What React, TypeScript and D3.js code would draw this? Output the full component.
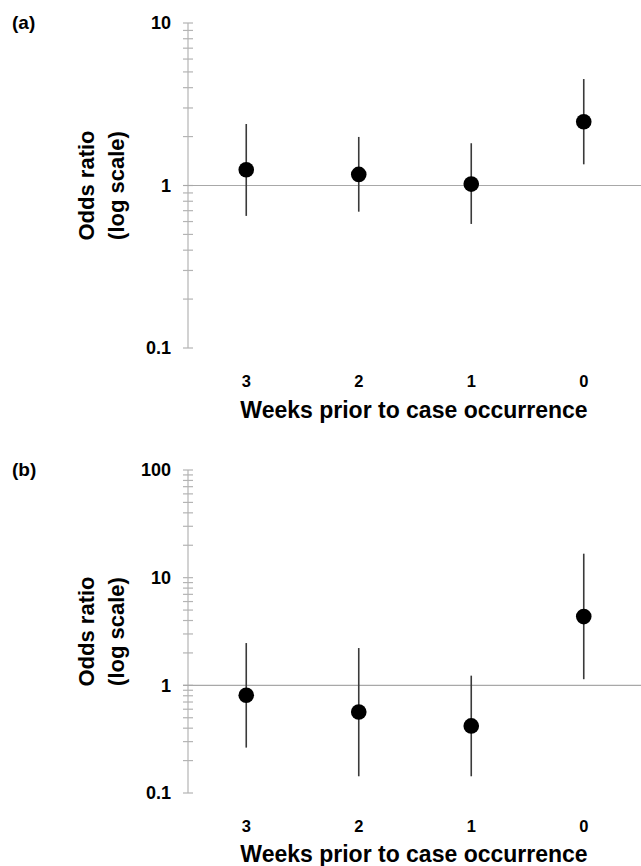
import React, { useEffect, useRef } from "react";
import * as d3 from "d3";

const weeks = ["3", "2", "1", "0"];

// panel (a)
const orA = [1.25, 1.17, 1.02, 2.47];
const loA = [0.65, 0.69, 0.58, 1.35];
const hiA = [2.39, 1.99, 1.82, 4.52];
const ticksA = [0.1, 1, 10];

// panel (b)
const orB = [0.81, 0.565, 0.42, 4.35];
const loB = [0.264, 0.143, 0.143, 1.14];
const hiB = [2.47, 2.22, 1.23, 16.7];
const ticksB = [0.1, 1, 10, 100];

const FONT = "Arial, 'Liberation Sans', Helvetica, sans-serif";

const drawPanel = (svg, opts) => {
  const { label, or, lo, hi, labels, domain, top, bottom, tickBase, titleBase } = opts;
  const axisX = 188;

  const x = d3.scalePoint().domain(weeks).range([190, 640]).padding(0.5);
  const y = d3.scaleLog().domain(domain).range([bottom, top]);

  const g = svg.append("g");

  // panel label
  g.append("text")
    .attr("x", 12)
    .attr("y", top + 6)
    .attr("font-family", FONT)
    .attr("font-weight", "bold")
    .attr("font-size", 19)
    .text(label);

  // axis line
  g.append("line")
    .attr("x1", axisX)
    .attr("x2", axisX)
    .attr("y1", y(domain[0]))
    .attr("y2", y(domain[1]))
    .attr("stroke", "#b4b4b4")
    .attr("stroke-width", 1.2);

  // ticks crossing the axis
  g.selectAll(".tick")
    .data(y.ticks())
    .join("line")
    .attr("x1", axisX - 5)
    .attr("x2", axisX + 5)
    .attr("y1", (d) => y(d))
    .attr("y2", (d) => y(d))
    .attr("stroke", "#b4b4b4")
    .attr("stroke-width", 1.2);

  // tick labels
  g.selectAll(".ylab")
    .data(labels)
    .join("text")
    .attr("x", 171)
    .attr("y", (d) => y(d))
    .attr("dy", "0.36em")
    .attr("text-anchor", "end")
    .attr("font-family", FONT)
    .attr("font-weight", "bold")
    .attr("font-size", 18)
    .text((d) => String(d));

  // reference line at 1
  g.append("line")
    .attr("x1", axisX - 5)
    .attr("x2", 641)
    .attr("y1", y(1))
    .attr("y2", y(1))
    .attr("stroke", "#a8a8a8")
    .attr("stroke-width", 1.2);

  // error bars
  g.selectAll(".err")
    .data(weeks)
    .join("line")
    .attr("x1", (d) => x(d))
    .attr("x2", (d) => x(d))
    .attr("y1", (d, i) => y(lo[i]))
    .attr("y2", (d, i) => y(hi[i]))
    .attr("stroke", "#3a3a3a")
    .attr("stroke-width", 1.6);

  // points
  g.selectAll(".pt")
    .data(weeks)
    .join("circle")
    .attr("cx", (d) => x(d))
    .attr("cy", (d, i) => y(or[i]))
    .attr("r", 7.8)
    .attr("fill", "#000");

  // x tick labels
  g.selectAll(".xlab")
    .data(weeks)
    .join("text")
    .attr("x", (d) => x(d))
    .attr("y", tickBase)
    .attr("text-anchor", "middle")
    .attr("font-family", FONT)
    .attr("font-weight", "bold")
    .attr("font-size", 16.5)
    .text((d) => d);

  // x title
  g.append("text")
    .attr("x", 414)
    .attr("y", titleBase)
    .attr("text-anchor", "middle")
    .attr("font-family", FONT)
    .attr("font-weight", "bold")
    .attr("font-size", 23)
    .text("Weeks prior to case occurrence");

  // y title, two lines
  const mid = (y(domain[0]) + y(domain[1])) / 2;
  const yt = g.append("text")
    .attr("transform", `translate(94,${mid}) rotate(-90)`)
    .attr("text-anchor", "middle")
    .attr("font-family", FONT)
    .attr("font-weight", "bold")
    .attr("font-size", 22);
  yt.append("tspan").attr("x", 0).attr("y", 0).text("Odds ratio");
  yt.append("tspan").attr("x", 0).attr("y", 30).text("(log scale)");
};

const App = () => {
  const svgRef = useRef(null);

  useEffect(() => {
    const svg = d3.select(svgRef.current);
    svg.selectAll("*").remove();

    svg.append("rect").attr("width", 641).attr("height", 866).attr("fill", "#fff");

    drawPanel(svg, {
      label: "(a)",
      or: orA,
      lo: loA,
      hi: hiA,
      labels: ticksA,
      domain: [0.1, 10],
      top: 23,
      bottom: 348,
      tickBase: 387,
      titleBase: 418,
    });

    drawPanel(svg, {
      label: "(b)",
      or: orB,
      lo: loB,
      hi: hiB,
      labels: ticksB,
      domain: [0.1, 100],
      top: 470,
      bottom: 793,
      tickBase: 832,
      titleBase: 862,
    });
  }, []);

  return (
    <svg
      ref={svgRef}
      width={641}
      height={866}
      style={{ position: "absolute", left: 0, top: 0 }}
    />
  );
};

export default App;
